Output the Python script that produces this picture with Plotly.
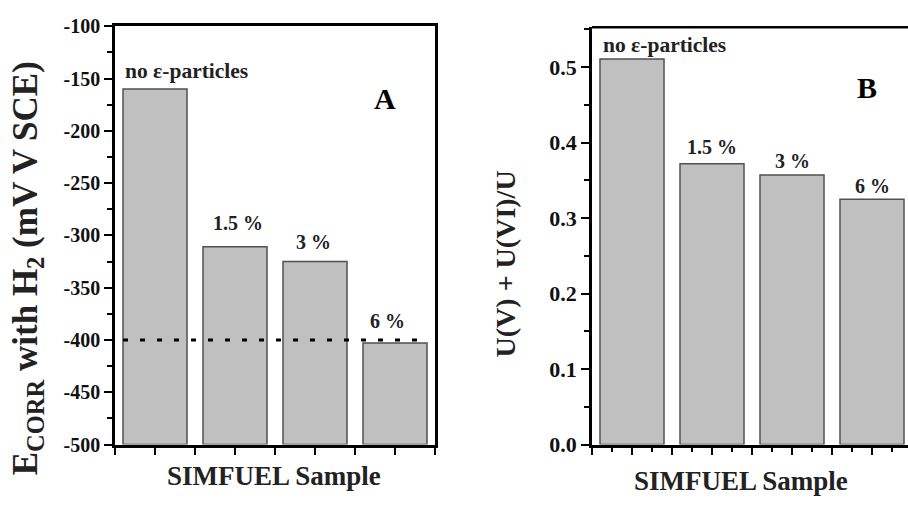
import plotly.graph_objects as go

categories = ["no ε-particles", "1.5 %", "3 %", "6 %"]
ecorr_values = [-160, -311, -325, -403]          # mV vs SCE (panel A)
uv_fraction = [0.511, 0.372, 0.357, 0.325]        # U(V)+U(VI)/U (panel B)
ecorr_floor = -500
ref_line = -400
ytick_a = [-500, -450, -400, -350, -300, -250, -200, -150, -100]
ytick_b = [0, 0.1, 0.2, 0.3, 0.4, 0.5]

FONT = "Liberation Serif"
BAR_FILL = "#c0c0c0"
BAR_EDGE = "#505050"

xs = list(range(len(categories)))

fig = go.Figure()
fig.add_trace(go.Bar(
    x=xs, y=[v - ecorr_floor for v in ecorr_values], base=ecorr_floor,
    width=0.8, marker=dict(color=BAR_FILL, line=dict(color=BAR_EDGE, width=1.5)),
    xaxis="x", yaxis="y", showlegend=False, hoverinfo="skip"))
fig.add_trace(go.Bar(
    x=xs, y=uv_fraction, width=0.8,
    marker=dict(color=BAR_FILL, line=dict(color=BAR_EDGE, width=1.5)),
    xaxis="x2", yaxis="y2", showlegend=False, hoverinfo="skip"))

W, H = 908, 508
def px(x): return x / W
def py(y): return (H - y) / H

fig.update_layout(
    width=W, height=H, margin=dict(l=0, r=0, t=0, b=0),
    paper_bgcolor="white", plot_bgcolor="white",
    font=dict(family=FONT, color="black"),
    xaxis=dict(domain=[px(115), px(435)], range=[-0.5, 3.5], anchor="y",
               showline=True, linewidth=2.5, linecolor="black", mirror=True,
               ticks="outside", ticklen=8, tickwidth=2, tickcolor="black",
               tick0=-0.5, dtick=0.5, showticklabels=False, showgrid=False, zeroline=False),
    yaxis=dict(domain=[py(455), py(16)], range=[-500, -100], anchor="x",
               showline=True, linewidth=2.5, linecolor="black", mirror=True,
               ticks="outside", ticklen=8, tickwidth=2, tickcolor="black",
               tickvals=ytick_a, ticktext=["<b>%d</b>" % v for v in ytick_a],
               tickfont=dict(family=FONT, size=20, color="#111"), showgrid=False, zeroline=False,
               minor=dict(dtick=25, ticks="outside", ticklen=5, tickwidth=2, tickcolor="black")),
    xaxis2=dict(domain=[px(592), 1.0], range=[-0.5, 3.45], anchor="y2",
                showline=True, linewidth=2.5, linecolor="black", mirror=False,
                ticks="outside", ticklen=8, tickwidth=2, tickcolor="black",
                tick0=-0.5, dtick=0.5, showticklabels=False, showgrid=False, zeroline=False,
                minor=dict(dtick=0.25, ticks="outside", ticklen=5, tickwidth=2, tickcolor="black")),
    yaxis2=dict(domain=[py(455), py(17)], range=[0, 0.553], anchor="x2",
                showline=True, linewidth=2.5, linecolor="black", mirror=False,
                ticks="outside", ticklen=8, tickwidth=2, tickcolor="black",
                tickvals=ytick_b, ticktext=["<b>%.1f</b>" % v for v in ytick_b],
                tickfont=dict(family=FONT, size=22, color="#111"), showgrid=False, zeroline=False,
                minor=dict(dtick=0.05, ticks="outside", ticklen=5, tickwidth=2, tickcolor="black")),
)

# top border of panel B (right side is cut off by the picture edge)
fig.add_shape(type="line", xref="x2 domain", yref="y2 domain", x0=0, x1=1, y0=1, y1=1,
              line=dict(color="black", width=2.5))
# dotted reference line in panel A
fig.add_shape(type="line", xref="x", yref="y", x0=-0.4, x1=3.35, y0=ref_line, y1=ref_line,
              line=dict(color="black", width=3, dash="5px,12px"), layer="above")

lab = dict(family=FONT, size=20, color="#222")
lab0 = dict(family=FONT, size=21.5, color="#222")
big = dict(family=FONT, size=30, color="black")
ann = [
    dict(x=0.39, y=-142.8, xref="x", yref="y", text="<b>" + categories[0] + "</b>", font=lab0),
    dict(x=1.04, y=-288.6, xref="x", yref="y", text="<b>" + categories[1] + "</b>", font=lab),
    dict(x=1.975, y=-305.9, xref="x", yref="y", text="<b>" + categories[2] + "</b>", font=lab),
    dict(x=2.91, y=-381.5, xref="x", yref="y", text="<b>" + categories[3] + "</b>", font=lab),
    dict(x=2.875, y=-169, xref="x", yref="y", text="<b>A</b>", font=big),
    dict(x=0.41, y=0.530, xref="x2", yref="y2", text="<b>" + categories[0] + "</b>", font=lab0),
    dict(x=1.0, y=0.394, xref="x2", yref="y2", text="<b>" + categories[1] + "</b>", font=lab),
    dict(x=2.0, y=0.376, xref="x2", yref="y2", text="<b>" + categories[2] + "</b>", font=lab),
    dict(x=3.01, y=0.343, xref="x2", yref="y2", text="<b>" + categories[3] + "</b>", font=lab),
    dict(x=2.94, y=0.473, xref="x2", yref="y2", text="<b>B</b>", font=big),
    # axis titles
    dict(x=px(273.5), y=py(488), xref="paper", yref="paper", text="<b>SIMFUEL Sample</b>",
         font=dict(family=FONT, size=27, color="#222")),
    dict(x=px(741), y=py(493), xref="paper", yref="paper", text="<b>SIMFUEL Sample</b>",
         font=dict(family=FONT, size=27, color="#222")),
    dict(x=px(27), y=py(270), xref="paper", yref="paper", textangle=-90,
         text="<b>E<sub>CORR</sub> with H<sub>2</sub> (mV V SCE)</b>",
         font=dict(family=FONT, size=35, color="#222")),
    dict(x=px(505), y=py(266), xref="paper", yref="paper", textangle=-90,
         text="<b>U(V) + U(VI)/U</b>", font=dict(family=FONT, size=28, color="#222")),
]
for a in ann:
    a.setdefault("showarrow", False)
    a.setdefault("xanchor", "center")
    a.setdefault("yanchor", "middle")
    fig.add_annotation(**a)

fig.write_html("out.html")
